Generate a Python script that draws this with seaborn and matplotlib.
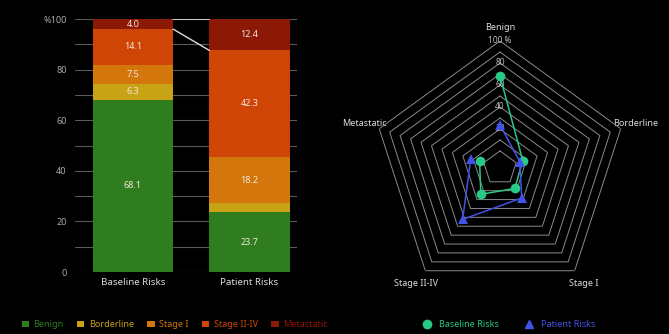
import matplotlib
matplotlib.use("Agg")
import matplotlib.pyplot as plt
from matplotlib.patches import Patch
from matplotlib.lines import Line2D
import pandas as pd
import numpy as np
import seaborn as sns

scenarios = ["Baseline Risks", "Patient Risks"]
categories = ["Benign", "Borderline", "Stage I", "Stage II-IV", "Metastatic"]
baseline = [68.1, 6.3, 7.5, 14.1, 4.0]
patient = [23.7, 3.4, 18.2, 42.3, 12.4]
cat_colors = ["#2f7d1f", "#c9a316", "#d3760c", "#cf4506", "#8c1906"]
radar_colors = ["#27c986", "#4352e6"]
yticks = [0, 20, 40, 60, 80, 100]
ytick_labels = ["0", "20", "40", "60", "80", "%100"]
rticks = [20, 40, 60, 80, 100]
rtick_labels = ["20", "40", "60", "80", "100 %"]

sns.set_style("dark")
plt.rcParams["font.family"] = ["Noto Sans", "DejaVu Sans"]

def make_df():
    rows = []
    for s, vals in zip(scenarios, [baseline, patient]):
        cum = np.cumsum(vals)
        for c, v, top in zip(categories, vals, cum):
            rows.append({"scenario": s, "category": c, "value": v, "top": top, "mid": top - v / 2})
    return pd.DataFrame(rows)

def stacked_bars(ax, df):
    ax.set_facecolor("black")
    # draw cumulative bars from the top segment down so they stack
    for c, col in reversed(list(zip(categories, cat_colors))):
        sub = df[df.category == c]
        sns.barplot(data=sub, x="scenario", y="top", color=col, saturation=1,
                    width=0.69, linewidth=0, edgecolor="none", ax=ax, zorder=3)
    for i, s in enumerate(scenarios):
        sub = df[df.scenario == s]
        for _, r in sub.iterrows():
            if r.value >= 3.5:
                ax.text(i, r.mid, f"{r.value:.1f}", ha="center", va="center",
                        color="#f3e6dc", fontsize=6.5, zorder=5)
    # connector lines between the metastatic segments
    b_low = 100 - baseline[-1]
    p_low = 100 - patient[-1]
    ax.plot([0.345, 0.655], [100, 100], color="#dddddd", lw=1.3, zorder=4)
    ax.plot([0.345, 0.655], [b_low, p_low], color="#dddddd", lw=1.0, zorder=4)
    ax.set_xlim(-0.498, 1.408)
    ax.set_ylim(0, 100)
    ax.set_yticks(yticks, ytick_labels)
    ax.set_yticks(range(10, 100, 20), minor=True)
    ax.grid(True, which="both", axis="y", color="#5a5a5a", lw=0.8, zorder=0)
    ax.grid(False, axis="x")
    ax.set_xlabel("")
    ax.set_ylabel("")
    ax.tick_params(axis="y", which="both", length=0, colors="#aaaaaa", labelsize=6.5, pad=6)
    ax.tick_params(axis="x", length=0, colors="#dddddd", labelsize=7, pad=4)
    for t in ax.get_xticklabels():
        t.set_fontweight("bold")
    for sp in ax.spines.values():
        sp.set_visible(False)

def radar(ax):
    ax.set_facecolor("black")
    ax.set_theta_offset(np.pi / 2)
    ax.set_theta_direction(-1)
    angles = np.linspace(0, 2 * np.pi, len(categories), endpoint=False)
    ring_theta = np.append(angles, angles[0])
    for rv in range(0, 101, 10):
        ax.plot(ring_theta, [rv] * len(ring_theta), color="#8a8a8a", lw=0.7, zorder=1)
    for rv, lab in zip(rticks, rtick_labels):
        ax.text(0, rv, lab, ha="center", va="center", color="#bbbbbb", fontsize=6, zorder=2)
    ax.text(0, 112, "Benign", ha="center", va="center", color="#dddddd",
            fontsize=6.5, fontweight="bold")
    for vals, col, mk, name in zip([baseline, patient], radar_colors, ["o", "^"], scenarios):
        d = pd.DataFrame({"theta": ring_theta, "r": vals + vals[:1]})
        sns.lineplot(data=d, x="theta", y="r", sort=False, color=col, lw=1.1,
                     marker=mk, markersize=7, markeredgewidth=0, ax=ax, zorder=3)
    ax.set_xlabel("")
    ax.set_ylabel("")
    # value 0 sits a little away from the centre
    ax.set_ylim(-15.5, 100)
    ax.set_yticks([])
    ax.set_xticks(angles, ["", "Borderline", "Stage I", "Stage II-IV", "Metastatic"])
    ax.tick_params(axis="x", colors="#dddddd", labelsize=6.5, pad=1)
    for t in ax.get_xticklabels():
        t.set_fontweight("bold")
    ax.xaxis.grid(False)
    ax.yaxis.grid(False)
    for sp in ax.spines.values():
        sp.set_visible(False)

fig = plt.figure(figsize=(6.69, 3.34), dpi=100, facecolor="black")
ax1 = fig.add_axes([0.112, 0.1856, 0.332, 0.7575])
ax2 = fig.add_axes([0.5575, 0.1168, 0.3797, 0.7605], projection="polar")

df = make_df()
stacked_bars(ax1, df)
radar(ax2)

bar_handles = [Patch(facecolor=c, edgecolor="none") for c in cat_colors]
fig.legend(bar_handles, categories, loc="center left", bbox_to_anchor=(0.02, 0.028),
           ncol=5, frameon=False, fontsize=6.5, labelcolor=cat_colors,
           handlelength=0.8, handleheight=0.8, handletextpad=0.5, columnspacing=1.5)
radar_handles = [Line2D([], [], ls="none", marker=m, color=c, markersize=6)
                 for m, c in zip(["o", "^"], radar_colors)]
fig.legend(radar_handles, scenarios, loc="center left", bbox_to_anchor=(0.62, 0.028),
           ncol=2, frameon=False, fontsize=6.5, labelcolor=radar_colors,
           handlelength=1.0, handletextpad=0.8, columnspacing=2.8)

fig.savefig("out.png", dpi=100, facecolor="black")
